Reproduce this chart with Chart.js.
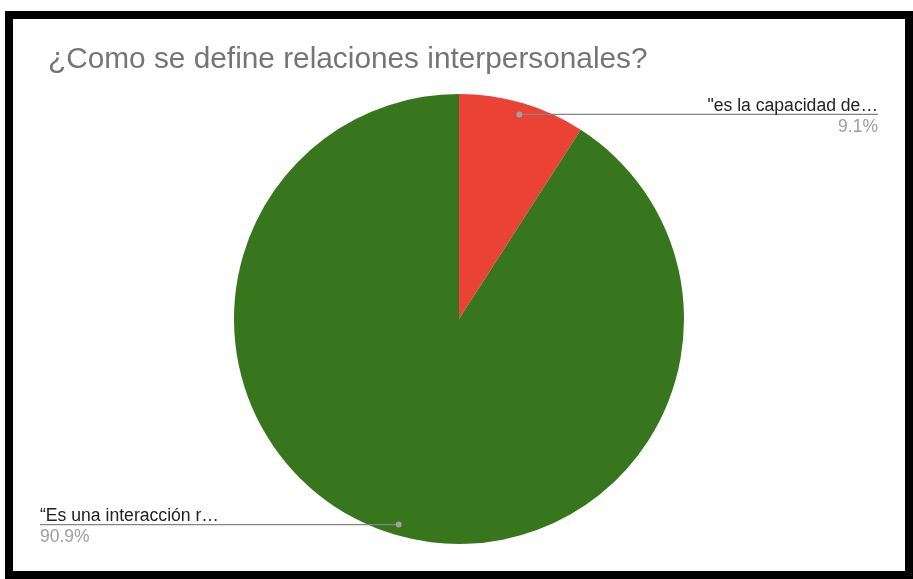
<!DOCTYPE html>
<html>
<head>
<meta charset="utf-8">
<script src="https://cdn.jsdelivr.net/npm/chart.js@4"></script>
<style>
    body { margin: 0; background: #ffffff; }
    #marco {
        position: absolute;
        left: 5px;
        top: 11px;
        width: 908px;
        height: 568px;
        border: 8px solid #000000;
        box-sizing: border-box;
        background: #ffffff;
    }
    #grafico_pizza { display: block; }
</style>
</head>
<body>
<div id="marco">
    <canvas id="grafico_pizza" width="892" height="552"></canvas>
</div>
<script>
// Respostas da pergunta
let titulo = '¿Como se define relaciones interpersonales?'
let respostas = ['"es la capacidad de…', '“Es una interacción r…']
let porcentagens = [9.1, 90.9]
let cores = ['#ea4335', '#38761d']

let graficoPizza = document.getElementById('grafico_pizza')

// Rótulos com linha guia, estilo planilha
const rotulosLaterais = {
    id: 'rotulosLaterais',
    afterDatasetsDraw(chart) {
        let ctx = chart.ctx
        let meta = chart.getDatasetMeta(0)

        meta.data.forEach((arco, i) => {
            let meio = (arco.startAngle + arco.endAngle) / 2
            let r = arco.outerRadius * 0.95
            let px = arco.x + Math.cos(meio) * r
            let py = arco.y + Math.sin(meio) * r
            let direita = px > arco.x
            let xTexto = direita ? chart.width - 27 : 27

            ctx.save()
            // linha guia
            ctx.strokeStyle = '#858585'
            ctx.lineWidth = 1.2
            ctx.beginPath()
            ctx.moveTo(px, py + 0.5)
            ctx.lineTo(xTexto, py + 0.5)
            ctx.stroke()

            // ponto
            ctx.fillStyle = '#a0a0a0'
            ctx.beginPath()
            ctx.arc(px, py + 0.5, 3, 0, Math.PI * 2)
            ctx.fill()

            ctx.textAlign = direita ? 'right' : 'left'
            ctx.textBaseline = 'alphabetic'
            ctx.font = '17.6px "Liberation Sans", Arial, sans-serif'
            ctx.fillStyle = '#222222'
            ctx.fillText(chart.data.labels[i], xTexto, py - 3)

            ctx.font = '17.5px "Liberation Sans", Arial, sans-serif'
            ctx.fillStyle = '#9e9e9e'
            ctx.fillText(porcentagens[i].toFixed(1) + '%', xTexto, py + 18)
            ctx.restore()
        })
    }
}

new Chart(graficoPizza, {
    type: 'pie',
    data: {
        labels: respostas,
        datasets: [
            {
                data: porcentagens,
                backgroundColor: cores,
                borderWidth: 0,
            },
        ],
    },
    options: {
        responsive: false,
        animation: false,
        events: [],
        layout: {
            padding: { top: 0, left: 35, right: 35, bottom: 27 },
        },
        plugins: {
            legend: { display: false },
            tooltip: { enabled: false },
            title: {
                display: true,
                text: titulo,
                align: 'start',
                color: '#757575',
                font: { family: '"Liberation Sans", Arial, sans-serif', size: 29.8, weight: 'normal', lineHeight: 1.2 },
                padding: { top: 23, bottom: 16.2 },
            },
        },
    },
    plugins: [rotulosLaterais],
})
</script>
</body>
</html>
